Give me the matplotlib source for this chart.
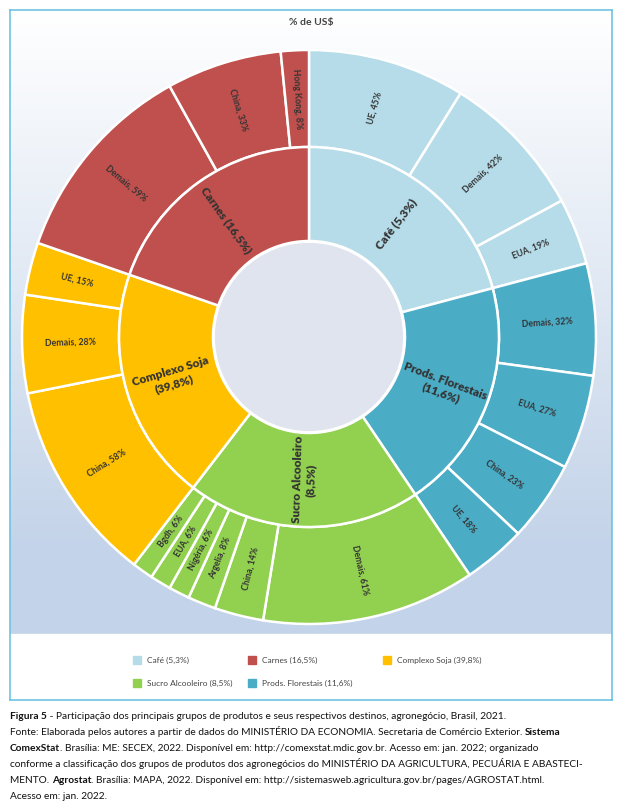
import matplotlib
matplotlib.use("Agg")
import matplotlib.pyplot as plt
import numpy as np
from matplotlib.patches import Rectangle

plt.rcParams['font.family'] = ['Lato', 'DejaVu Sans']

groups = ["Café (5,3%)", "Prods. Florestais\n(11,6%)", "Sucro Alcooleiro\n(8,5%)", "Complexo Soja\n(39,8%)", "Carnes (16,5%)"]
legend_names = ["Café (5,3%)", "Carnes (16,5%)", "Complexo Soja (39,8%)", "Sucro Alcooleiro (8,5%)", "Prods. Florestais (11,6%)"]
colors = {"Café": "#b5dce8", "Prods": "#4bacc6", "Sucro": "#92d050", "Soja": "#ffc000", "Carnes": "#c0504d"}
group_keys = ["Café", "Prods", "Sucro", "Soja", "Carnes"]
sub_labels = [
    ["UE", "Demais", "EUA"],
    ["Demais", "EUA", "China", "UE"],
    ["Demais", "China", "Argelia", "Nigéria", "EUA", "Bgdh"],
    ["China", "Demais", "UE"],
    ["Demais", "China", "Hong Kong"],
]
sub_values = [
    [45, 42, 19],
    [32, 27, 23, 18],
    [61, 14, 8, 6, 6, 6],
    [58, 28, 15],
    [59, 33, 8],
]

fig = plt.figure(figsize=(6.33, 8.08), dpi=100)
bg = fig.add_axes([10/633, 1-700/808, 602/633, 690/808])
grad = np.linspace(0, 1, 256)[:, None]
c0 = np.array([1.0, 1.0, 1.0]); c1 = np.array([0.70, 0.78, 0.89])
img = c0[None, None, :] * (1 - grad[..., None]) + c1[None, None, :] * grad[..., None]
img = np.concatenate([img[:200], np.repeat(img[199:200], 56, axis=0)])
bg.imshow(img, aspect='auto', extent=[0, 1, 0, 1])
bg.add_patch(Rectangle((0, 0), 1, 0.095, color='white', zorder=2))
bg.set_xlim(0, 1); bg.set_ylim(0, 1)
bg.set_xticks([]); bg.set_yticks([])
for s in bg.spines.values():
    s.set_color('#6ec3e0'); s.set_linewidth(1.2)
bg.text(0.5, 1 - 12/690, "% de US$", ha='center', va='center', fontsize=7.5, color='#444444', fontweight='bold')

ax = fig.add_axes([22/633, 1-624/808, 574/633, 574/808])

R_out, R_mid, R_in = 1.0, 190/287, 96/287
inner_vals = [sum(v) for v in sub_values]
inner_cols = [colors[k] for k in group_keys]
outer_vals = [x for v in sub_values for x in v]
outer_cols = [colors[k] for k, v in zip(group_keys, sub_values) for _ in v]
outer_labs = [f"{l}, {x}%" for ls, v in zip(sub_labels, sub_values) for l, x in zip(ls, v)]

wp = dict(edgecolor='white', linewidth=1.8)
ax.pie(outer_vals, radius=R_out, colors=outer_cols, startangle=90, counterclock=False,
       wedgeprops=dict(width=R_out - R_mid, **wp))
ax.pie(inner_vals, radius=R_mid, colors=inner_cols, startangle=90, counterclock=False,
       wedgeprops=dict(width=R_mid - R_in, **wp))
ax.set_aspect('equal'); ax.set_xlim(-1, 1); ax.set_ylim(-1, 1); ax.axis('off')
ax.add_patch(plt.Circle((0, 0), R_in - 0.003, facecolor='#dfe4ef', edgecolor='white', lw=1.5, zorder=0.5))

def put(vals, labs, r, fs, bold):
    tot = sum(vals); a = 90.0
    for v, l in zip(vals, labs):
        span = v / tot * 360
        mid = a - span / 2
        a -= span
        m = (mid + 180) % 360 - 180
        rot = m
        if m > 90: rot = m - 180
        if m < -90: rot = m + 180
        x, y = r * np.cos(np.radians(mid)), r * np.sin(np.radians(mid))
        ax.text(x, y, l, rotation=rot, rotation_mode='anchor', ha='center', va='center',
                fontsize=fs, color='#333333', fontweight=bold, multialignment='center')

put(outer_vals, outer_labs, (R_out + R_mid) / 2, 6.3, 'bold')
put(inner_vals, groups, (R_mid + R_in) / 2, 8.5, 'heavy')

leg = [(133, 660, 0), (248, 660, 1), (383, 660, 2), (133, 683, 3), (248, 683, 4)]
for x, y, i in leg:
    fig.patches.append(Rectangle((x/633, 1-(y+4)/808), 8/633, 8/808, transform=fig.transFigure,
                                 color=colors[["Café", "Carnes", "Soja", "Sucro", "Prods"][i]]))
    fig.text((x+14)/633, 1-y/808, legend_names[i], fontsize=6, va='center', color='#444444')

cap = [
    (719, [("Figura 5", True), (" - Participação dos principais grupos de produtos e seus respectivos destinos, agronegócio, Brasil, 2021.", False)]),
    (735, [("Fonte: Elaborada pelos autores a partir de dados do MINISTÉRIO DA ECONOMIA. Secretaria de Comércio Exterior. ", False), ("Sistema", True)]),
    (751, [("ComexStat", True), (". Brasília: ME: SECEX, 2022. Disponível em: http://comexstat.mdic.gov.br. Acesso em: jan. 2022; organizado", False)]),
    (767, [("conforme a classificação dos grupos de produtos dos agronegócios do MINISTÉRIO DA AGRICULTURA, PECUÁRIA E ABASTECI-", False)]),
    (783, [("MENTO. ", False), ("Agrostat", True), (". Brasília: MAPA, 2022. Disponível em: http://sistemasweb.agricultura.gov.br/pages/AGROSTAT.html.", False)]),
    (799, [("Acesso em: jan. 2022.", False)]),
]
fig.canvas.draw()
r = fig.canvas.get_renderer()
for y, parts in cap:
    x = 10
    for t, b in parts:
        tx = fig.text(x/633, 1-y/808, t, fontsize=7.3, va='baseline', fontweight='bold' if b else 'normal', color='#111111')
        x += tx.get_window_extent(r).width

fig.savefig("out.png", dpi=100)
